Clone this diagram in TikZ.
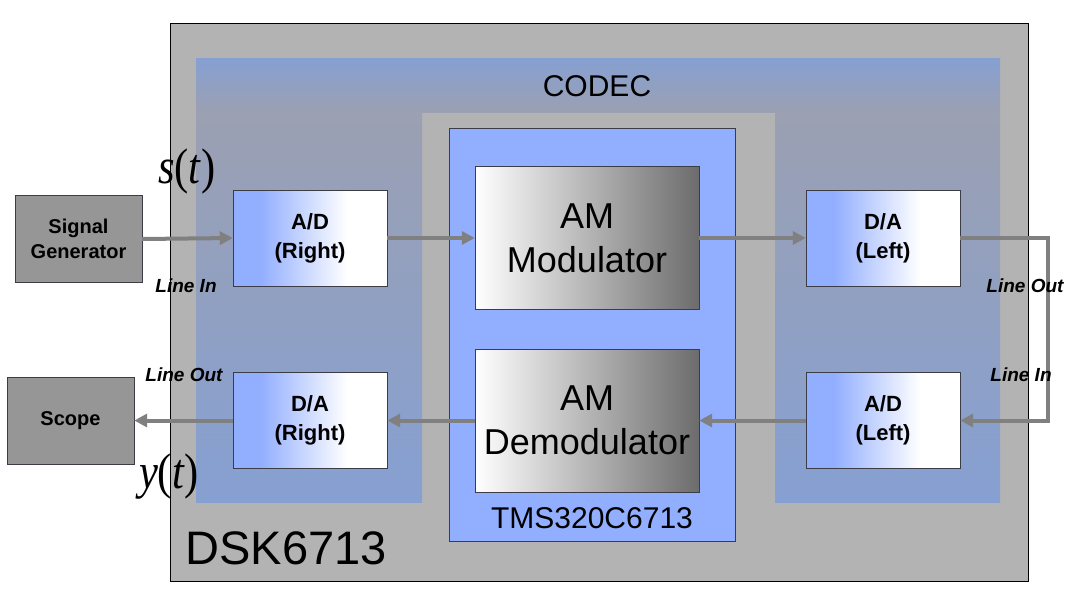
\documentclass[tikz,border=0pt]{standalone}
\usepackage{fontspec}
\setmainfont{Liberation Sans}
\newfontfamily\mathserif{Liberation Serif}
\usetikzlibrary{arrows.meta}
\definecolor{boardgray}{RGB}{179,179,179}
\definecolor{tmsblue}{RGB}{146,174,255}
\definecolor{convblue}{RGB}{146,174,255}
\definecolor{bandblue}{RGB}{134,160,210}
\definecolor{bandgray}{RGB}{155,160,178}
\definecolor{extgray}{RGB}{150,150,150}
\definecolor{arrowgray}{RGB}{128,128,128}
\definecolor{amdark}{RGB}{108,108,108}
\definecolor{edgegray}{RGB}{60,60,70}
\pgfdeclarehorizontalshading{convshade}{100bp}{color(0bp)=(convblue); color(34bp)=(convblue); color(62bp)=(white); color(100bp)=(white)}
\newcommand{\sigof}[1]{\textit{#1}(\textit{t})}

\begin{document}
\begin{tikzpicture}[x=1pt, y=-1pt,
	conv/.style={draw=edgegray, shade, shading=convshade, minimum width=154, minimum height=96, align=center, font=\fontsize{22}{29}\selectfont\bfseries},
	amblock/.style={draw=edgegray, left color=white, right color=amdark, minimum width=224, minimum height=143, align=center, font=\fontsize{36}{44}\selectfont},
	ext/.style={draw=edgegray, fill=extgray, minimum width=127, minimum height=87, align=center, font=\fontsize{20}{25}\selectfont\bfseries},
	sig/.style={draw=arrowgray, line width=4pt, -{Triangle[length=13pt,width=13pt]}},
	linelbl/.style={font=\fontsize{19}{19}\selectfont\bfseries\itshape},
	mathlbl/.style={xscale=0.85, font=\fontsize{50}{50}\selectfont\mathserif}]
	\useasboundingbox (0,0) rectangle (1081,606);
	\fill[white] (0,0) rectangle (1081,606);
	\draw[fill=boardgray, draw=black] (170,23) rectangle (1028,581);
	\shade[top color=bandblue, bottom color=bandgray] (196,58) rectangle (1000,112);
	\shade[top color=bandgray, bottom color=bandblue] (196,113) rectangle (422,502);
	\shade[top color=bandgray, bottom color=bandblue] (775,113) rectangle (1000,502);
	\draw[fill=tmsblue, draw=edgegray] (449,128) rectangle (735,541);
	\node[font=\fontsize{30}{30}\selectfont] (codec) at (597,86) {CODEC};
	\node[font=\fontsize{30}{30}\selectfont] (tmslbl) at (592,518) {TMS320C6713};
	\node[font=\fontsize{47}{47}\selectfont] (dsk) at (286,548) {DSK6713};

	\node[ext] (gen) at (78.5,239) {Signal\\Generator};
	\node[ext] (scope) at (70.5,420.5) {Scope};
	\node[conv] (adr) at (310,238) {A/D\\(Right)};
	\node[conv] (dar) at (310,420.5) {D/A\\(Right)};
	\node[conv] (dal) at (883,238) {D/A\\(Left)};
	\node[conv] (adl) at (883,420.5) {A/D\\(Left)};
	\node[amblock] (mod) at (587,238) {AM\\Modulator};
	\node[amblock] (demod) at (587,420.5) {AM\\Demodulator};
	\coordinate (loop) at (1048,238);

	\draw[sig] (gen.east) -- (adr.west);
	\draw[sig] (adr.east) -- (mod.west);
	\draw[sig] (mod.east) -- (dal.west);
	\draw[sig] (dal.east) -- (loop) |- (adl.east);
	\draw[sig] (adl.west) -- (demod.east);
	\draw[sig] (demod.west) -- (dar.east);
	\draw[sig] (dar.west) -- (scope.east);

	\node[linelbl] (linein1) at (186,286) {Line In};
	\node[linelbl] (lineout1) at (184,375) {Line Out};
	\node[linelbl] (lineout2) at (1025,286) {Line Out};
	\node[linelbl] (linein2) at (1021,375) {Line In};
	\node[mathlbl] (st) at (187,171) {\sigof{s}};
	\node[mathlbl] (yt) at (169,477) {\sigof{y}};
\end{tikzpicture}
\end{document}
